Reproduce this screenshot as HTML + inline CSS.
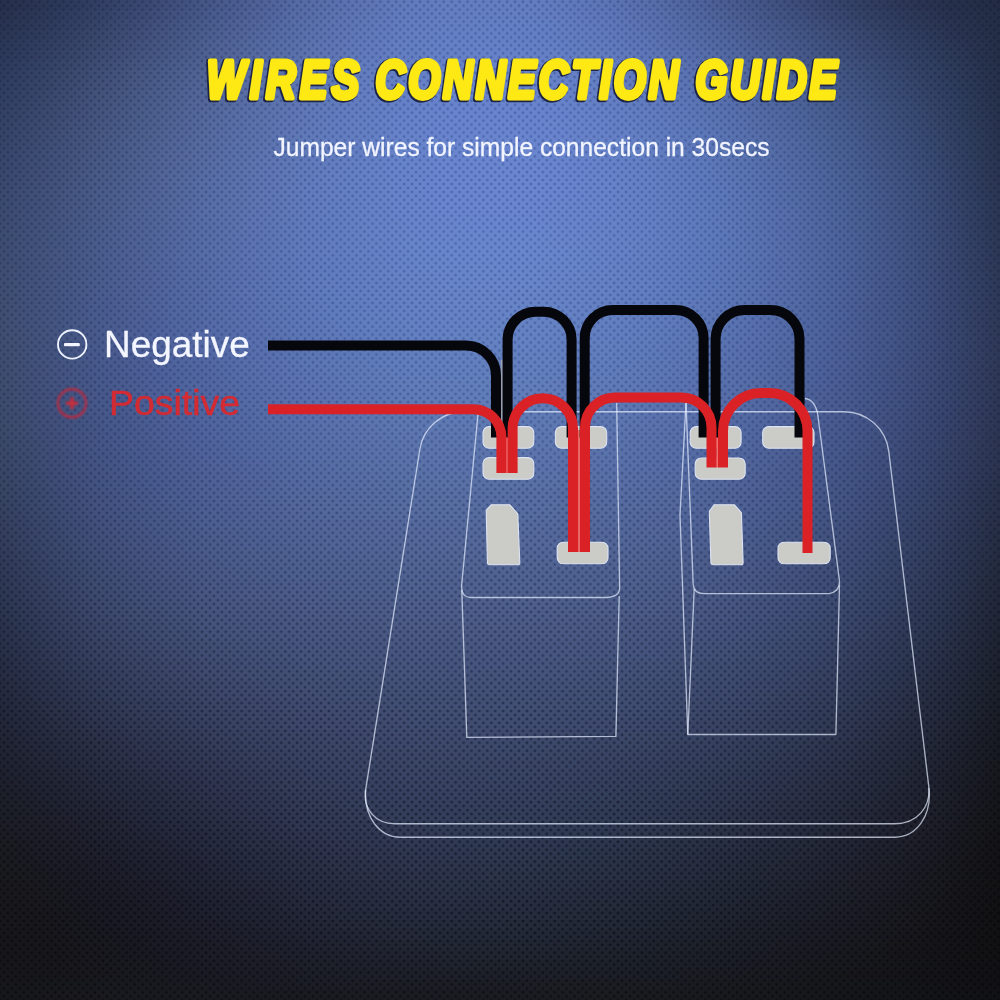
<!DOCTYPE html>
<html><head><meta charset="utf-8">
<style>
html,body{margin:0;padding:0;}
body{width:1000px;height:1000px;overflow:hidden;position:relative;
background:#202840;}
#bgs div{position:absolute;left:0;width:1000px;}
svg{position:absolute;left:0;top:0;}
</style></head>
<body>
<div id="bgs"><div style="top:0px;height:10px;background:linear-gradient(90deg,rgb(38,48,75) 0px,rgb(43,55,86) 50px,rgb(51,63,100) 100px,rgb(59,74,115) 150px,rgb(69,85,132) 200px,rgb(77,96,148) 250px,rgb(86,107,164) 300px,rgb(92,115,177) 350px,rgb(97,122,186) 400px,rgb(100,126,192) 450px,rgb(100,126,193) 500px,rgb(98,124,190) 550px,rgb(93,118,182) 600px,rgb(87,110,170) 650px,rgb(79,99,155) 700px,rgb(70,88,138) 750px,rgb(61,76,120) 800px,rgb(52,65,102) 850px,rgb(45,55,87) 900px,rgb(39,48,75) 950px,rgb(35,44,68) 1000px)"></div><div style="top:10px;height:10px;background:linear-gradient(90deg,rgb(39,50,78) 0px,rgb(45,57,89) 50px,rgb(53,66,103) 100px,rgb(62,76,118) 150px,rgb(70,87,135) 200px,rgb(79,98,151) 250px,rgb(87,108,166) 300px,rgb(93,117,178) 350px,rgb(98,123,188) 400px,rgb(101,126,194) 450px,rgb(101,127,195) 500px,rgb(99,125,192) 550px,rgb(95,119,185) 600px,rgb(88,112,173) 650px,rgb(81,102,158) 700px,rgb(72,91,141) 750px,rgb(63,79,124) 800px,rgb(54,68,106) 850px,rgb(46,58,91) 900px,rgb(40,50,78) 950px,rgb(35,45,69) 1000px)"></div><div style="top:20px;height:10px;background:linear-gradient(90deg,rgb(40,51,81) 0px,rgb(47,59,92) 50px,rgb(55,68,105) 100px,rgb(64,79,121) 150px,rgb(72,90,137) 200px,rgb(81,100,153) 250px,rgb(88,110,168) 300px,rgb(94,118,180) 350px,rgb(99,124,190) 400px,rgb(101,127,195) 450px,rgb(101,128,196) 500px,rgb(99,126,194) 550px,rgb(96,121,187) 600px,rgb(90,113,176) 650px,rgb(82,104,161) 700px,rgb(74,93,145) 750px,rgb(65,82,128) 800px,rgb(56,71,110) 850px,rgb(48,60,94) 900px,rgb(41,52,80) 950px,rgb(35,45,69) 1000px)"></div><div style="top:30px;height:10px;background:linear-gradient(90deg,rgb(41,53,83) 0px,rgb(49,61,94) 50px,rgb(57,71,108) 100px,rgb(66,81,123) 150px,rgb(74,92,139) 200px,rgb(82,102,155) 250px,rgb(89,111,170) 300px,rgb(95,119,182) 350px,rgb(99,125,191) 400px,rgb(102,128,197) 450px,rgb(102,128,198) 500px,rgb(100,126,195) 550px,rgb(97,122,188) 600px,rgb(91,115,178) 650px,rgb(84,106,164) 700px,rgb(76,96,148) 750px,rgb(67,85,131) 800px,rgb(58,74,114) 850px,rgb(49,63,98) 900px,rgb(42,53,83) 950px,rgb(36,46,70) 1000px)"></div><div style="top:40px;height:10px;background:linear-gradient(90deg,rgb(43,55,86) 0px,rgb(50,63,97) 50px,rgb(59,73,110) 100px,rgb(67,83,126) 150px,rgb(76,94,141) 200px,rgb(83,104,157) 250px,rgb(90,113,171) 300px,rgb(96,120,184) 350px,rgb(100,126,193) 400px,rgb(102,129,198) 450px,rgb(103,129,199) 500px,rgb(101,127,197) 550px,rgb(97,123,190) 600px,rgb(92,116,180) 650px,rgb(85,108,167) 700px,rgb(77,98,152) 750px,rgb(68,87,135) 800px,rgb(60,76,118) 850px,rgb(51,65,101) 900px,rgb(43,55,85) 950px,rgb(36,46,71) 1000px)"></div><div style="top:50px;height:10px;background:linear-gradient(90deg,rgb(44,56,88) 0px,rgb(52,65,99) 50px,rgb(60,75,113) 100px,rgb(69,85,128) 150px,rgb(77,95,143) 200px,rgb(85,105,159) 250px,rgb(91,114,173) 300px,rgb(97,121,185) 350px,rgb(100,126,194) 400px,rgb(103,129,199) 450px,rgb(103,130,201) 500px,rgb(102,128,198) 550px,rgb(98,124,192) 600px,rgb(93,118,182) 650px,rgb(86,110,170) 700px,rgb(79,100,155) 750px,rgb(70,89,138) 800px,rgb(61,78,121) 850px,rgb(52,67,104) 900px,rgb(44,57,87) 950px,rgb(36,47,71) 1000px)"></div><div style="top:60px;height:10px;background:linear-gradient(90deg,rgb(45,58,91) 0px,rgb(53,67,102) 50px,rgb(62,77,115) 100px,rgb(70,87,130) 150px,rgb(78,97,145) 200px,rgb(86,106,161) 250px,rgb(92,115,175) 300px,rgb(97,122,186) 350px,rgb(101,127,195) 400px,rgb(103,130,200) 450px,rgb(104,131,202) 500px,rgb(102,129,199) 550px,rgb(99,125,193) 600px,rgb(94,119,184) 650px,rgb(88,111,172) 700px,rgb(80,102,157) 750px,rgb(71,92,141) 800px,rgb(63,81,124) 850px,rgb(53,69,107) 900px,rgb(45,58,89) 950px,rgb(36,47,72) 1000px)"></div><div style="top:70px;height:10px;background:linear-gradient(90deg,rgb(46,59,93) 0px,rgb(55,69,104) 50px,rgb(63,79,117) 100px,rgb(72,89,132) 150px,rgb(80,99,147) 200px,rgb(87,108,162) 250px,rgb(93,116,176) 300px,rgb(98,123,188) 350px,rgb(101,128,196) 400px,rgb(103,131,201) 450px,rgb(104,131,203) 500px,rgb(103,130,200) 550px,rgb(100,126,195) 600px,rgb(95,120,186) 650px,rgb(89,113,174) 700px,rgb(81,104,160) 750px,rgb(73,94,144) 800px,rgb(64,83,127) 850px,rgb(55,71,109) 900px,rgb(46,59,91) 950px,rgb(37,48,73) 1000px)"></div><div style="top:80px;height:10px;background:linear-gradient(90deg,rgb(47,61,95) 0px,rgb(56,70,106) 50px,rgb(65,80,119) 100px,rgb(73,90,134) 150px,rgb(81,100,149) 200px,rgb(88,109,164) 250px,rgb(93,117,177) 300px,rgb(98,124,189) 350px,rgb(102,128,197) 400px,rgb(104,131,202) 450px,rgb(104,132,204) 500px,rgb(103,130,201) 550px,rgb(100,127,196) 600px,rgb(96,121,187) 650px,rgb(90,114,176) 700px,rgb(82,105,162) 750px,rgb(74,96,147) 800px,rgb(65,85,130) 850px,rgb(56,73,112) 900px,rgb(46,61,93) 950px,rgb(37,48,74) 1000px)"></div><div style="top:90px;height:10px;background:linear-gradient(90deg,rgb(48,62,97) 0px,rgb(57,72,108) 50px,rgb(66,82,121) 100px,rgb(74,92,136) 150px,rgb(82,101,151) 200px,rgb(88,110,165) 250px,rgb(94,118,179) 300px,rgb(99,124,190) 350px,rgb(102,129,198) 400px,rgb(104,132,203) 450px,rgb(105,132,204) 500px,rgb(104,131,202) 550px,rgb(101,128,197) 600px,rgb(96,122,189) 650px,rgb(91,116,178) 700px,rgb(83,107,165) 750px,rgb(75,97,149) 800px,rgb(66,86,132) 850px,rgb(57,74,114) 900px,rgb(47,62,95) 950px,rgb(38,49,74) 1000px)"></div><div style="top:100px;height:10px;background:linear-gradient(90deg,rgb(50,63,99) 0px,rgb(59,73,110) 50px,rgb(67,83,123) 100px,rgb(75,93,138) 150px,rgb(83,102,152) 200px,rgb(89,111,167) 250px,rgb(95,119,180) 300px,rgb(99,125,191) 350px,rgb(102,129,199) 400px,rgb(104,132,204) 450px,rgb(105,133,205) 500px,rgb(104,132,203) 550px,rgb(101,128,198) 600px,rgb(97,123,190) 650px,rgb(91,117,180) 700px,rgb(84,108,167) 750px,rgb(76,99,152) 800px,rgb(67,88,135) 850px,rgb(58,76,116) 900px,rgb(48,63,96) 950px,rgb(38,49,75) 1000px)"></div><div style="top:110px;height:10px;background:linear-gradient(90deg,rgb(51,65,100) 0px,rgb(60,74,112) 50px,rgb(68,84,125) 100px,rgb(76,94,139) 150px,rgb(83,103,154) 200px,rgb(90,112,168) 250px,rgb(95,119,181) 300px,rgb(99,125,192) 350px,rgb(103,130,200) 400px,rgb(105,133,204) 450px,rgb(105,133,206) 500px,rgb(104,132,204) 550px,rgb(102,129,199) 600px,rgb(98,124,191) 650px,rgb(92,118,181) 700px,rgb(85,110,169) 750px,rgb(77,100,154) 800px,rgb(68,89,137) 850px,rgb(59,77,118) 900px,rgb(49,64,98) 950px,rgb(38,50,76) 1000px)"></div><div style="top:120px;height:10px;background:linear-gradient(90deg,rgb(52,66,102) 0px,rgb(61,76,113) 50px,rgb(69,85,127) 100px,rgb(77,95,141) 150px,rgb(84,104,155) 200px,rgb(90,113,169) 250px,rgb(96,120,182) 300px,rgb(100,126,193) 350px,rgb(103,130,200) 400px,rgb(105,133,205) 450px,rgb(105,134,206) 500px,rgb(105,133,204) 550px,rgb(102,130,200) 600px,rgb(98,125,192) 650px,rgb(93,119,183) 700px,rgb(86,111,170) 750px,rgb(78,101,156) 800px,rgb(69,91,139) 850px,rgb(60,78,120) 900px,rgb(50,65,99) 950px,rgb(39,50,77) 1000px)"></div><div style="top:130px;height:10px;background:linear-gradient(90deg,rgb(53,67,103) 0px,rgb(62,77,115) 50px,rgb(70,87,128) 100px,rgb(78,96,142) 150px,rgb(85,105,157) 200px,rgb(91,113,170) 250px,rgb(96,121,183) 300px,rgb(100,126,193) 350px,rgb(103,131,201) 400px,rgb(105,133,205) 450px,rgb(106,134,207) 500px,rgb(105,133,205) 550px,rgb(103,130,200) 600px,rgb(99,126,193) 650px,rgb(93,120,184) 700px,rgb(87,112,172) 750px,rgb(79,103,157) 800px,rgb(70,92,141) 850px,rgb(61,79,122) 900px,rgb(50,66,101) 950px,rgb(39,51,78) 1000px)"></div><div style="top:140px;height:10px;background:linear-gradient(90deg,rgb(54,68,105) 0px,rgb(62,78,116) 50px,rgb(71,87,130) 100px,rgb(78,97,144) 150px,rgb(85,106,158) 200px,rgb(91,114,171) 250px,rgb(96,121,184) 300px,rgb(100,127,194) 350px,rgb(103,131,201) 400px,rgb(105,134,206) 450px,rgb(106,134,207) 500px,rgb(105,133,205) 550px,rgb(103,131,201) 600px,rgb(99,126,194) 650px,rgb(94,120,185) 700px,rgb(87,113,173) 750px,rgb(80,104,159) 800px,rgb(71,93,143) 850px,rgb(61,80,124) 900px,rgb(51,67,102) 950px,rgb(40,51,78) 1000px)"></div><div style="top:150px;height:10px;background:linear-gradient(90deg,rgb(54,69,106) 0px,rgb(63,79,118) 50px,rgb(71,88,131) 100px,rgb(79,98,145) 150px,rgb(86,106,159) 200px,rgb(91,114,172) 250px,rgb(96,121,184) 300px,rgb(100,127,194) 350px,rgb(103,131,202) 400px,rgb(105,134,206) 450px,rgb(106,135,207) 500px,rgb(105,134,206) 550px,rgb(103,131,201) 600px,rgb(99,127,195) 650px,rgb(94,121,186) 700px,rgb(88,114,174) 750px,rgb(80,104,160) 800px,rgb(72,94,144) 850px,rgb(62,81,125) 900px,rgb(51,67,103) 950px,rgb(40,52,79) 1000px)"></div><div style="top:160px;height:10px;background:linear-gradient(90deg,rgb(55,70,107) 0px,rgb(64,80,119) 50px,rgb(72,89,132) 100px,rgb(79,98,146) 150px,rgb(86,107,160) 200px,rgb(92,115,173) 250px,rgb(97,122,185) 300px,rgb(101,127,195) 350px,rgb(103,132,202) 400px,rgb(105,134,206) 450px,rgb(106,135,207) 500px,rgb(105,134,206) 550px,rgb(103,131,202) 600px,rgb(100,127,195) 650px,rgb(95,122,187) 700px,rgb(88,114,175) 750px,rgb(81,105,162) 800px,rgb(72,94,145) 850px,rgb(63,82,126) 900px,rgb(52,68,105) 950px,rgb(41,52,80) 1000px)"></div><div style="top:170px;height:10px;background:linear-gradient(90deg,rgb(56,71,108) 0px,rgb(65,80,120) 50px,rgb(72,90,133) 100px,rgb(80,99,147) 150px,rgb(86,107,161) 200px,rgb(92,115,174) 250px,rgb(97,122,185) 300px,rgb(101,128,195) 350px,rgb(103,132,202) 400px,rgb(105,134,206) 450px,rgb(106,135,207) 500px,rgb(105,134,206) 550px,rgb(103,132,202) 600px,rgb(100,128,196) 650px,rgb(95,122,187) 700px,rgb(89,115,176) 750px,rgb(81,106,163) 800px,rgb(73,95,147) 850px,rgb(63,83,128) 900px,rgb(53,68,106) 950px,rgb(41,52,81) 1000px)"></div><div style="top:180px;height:10px;background:linear-gradient(90deg,rgb(57,72,109) 0px,rgb(65,81,121) 50px,rgb(73,90,135) 100px,rgb(80,99,148) 150px,rgb(86,108,162) 200px,rgb(92,115,174) 250px,rgb(97,122,186) 300px,rgb(101,128,195) 350px,rgb(103,132,202) 400px,rgb(105,134,206) 450px,rgb(106,135,207) 500px,rgb(105,134,206) 550px,rgb(103,132,202) 600px,rgb(100,128,196) 650px,rgb(95,122,188) 700px,rgb(89,115,177) 750px,rgb(82,106,164) 800px,rgb(73,96,148) 850px,rgb(64,83,129) 900px,rgb(53,69,107) 950px,rgb(42,53,81) 1000px)"></div><div style="top:190px;height:10px;background:linear-gradient(90deg,rgb(58,73,110) 0px,rgb(66,82,122) 50px,rgb(73,91,136) 100px,rgb(80,99,149) 150px,rgb(86,108,162) 200px,rgb(92,116,175) 250px,rgb(97,122,186) 300px,rgb(101,128,195) 350px,rgb(103,132,202) 400px,rgb(105,134,206) 450px,rgb(106,135,207) 500px,rgb(105,134,206) 550px,rgb(103,132,202) 600px,rgb(100,128,196) 650px,rgb(95,123,188) 700px,rgb(89,115,178) 750px,rgb(82,107,164) 800px,rgb(74,96,149) 850px,rgb(64,84,130) 900px,rgb(54,69,108) 950px,rgb(42,53,82) 1000px)"></div><div style="top:200px;height:10px;background:linear-gradient(90deg,rgb(58,74,111) 0px,rgb(66,82,123) 50px,rgb(74,91,136) 100px,rgb(80,100,150) 150px,rgb(87,108,163) 200px,rgb(92,116,175) 250px,rgb(97,122,186) 300px,rgb(100,128,195) 350px,rgb(103,132,202) 400px,rgb(105,134,206) 450px,rgb(106,135,207) 500px,rgb(105,134,205) 550px,rgb(103,132,202) 600px,rgb(100,128,196) 650px,rgb(95,123,188) 700px,rgb(90,116,178) 750px,rgb(82,107,165) 800px,rgb(74,96,149) 850px,rgb(65,84,130) 900px,rgb(54,70,108) 950px,rgb(42,54,83) 1000px)"></div><div style="top:210px;height:10px;background:linear-gradient(90deg,rgb(59,74,111) 0px,rgb(67,83,124) 50px,rgb(74,91,137) 100px,rgb(80,100,151) 150px,rgb(87,108,164) 200px,rgb(92,116,176) 250px,rgb(97,122,186) 300px,rgb(100,128,195) 350px,rgb(103,132,202) 400px,rgb(105,134,205) 450px,rgb(106,135,206) 500px,rgb(105,134,205) 550px,rgb(103,132,202) 600px,rgb(100,128,196) 650px,rgb(96,123,188) 700px,rgb(90,116,178) 750px,rgb(83,107,166) 800px,rgb(74,97,150) 850px,rgb(65,84,131) 900px,rgb(54,70,109) 950px,rgb(43,54,83) 1000px)"></div><div style="top:220px;height:10px;background:linear-gradient(90deg,rgb(60,75,112) 0px,rgb(67,83,125) 50px,rgb(74,92,138) 100px,rgb(80,100,151) 150px,rgb(86,108,164) 200px,rgb(92,116,176) 250px,rgb(96,122,186) 300px,rgb(100,128,195) 350px,rgb(103,132,201) 400px,rgb(105,134,205) 450px,rgb(105,135,206) 500px,rgb(105,134,205) 550px,rgb(103,132,201) 600px,rgb(100,128,196) 650px,rgb(96,123,188) 700px,rgb(90,116,178) 750px,rgb(83,107,166) 800px,rgb(75,97,150) 850px,rgb(65,85,132) 900px,rgb(55,70,110) 950px,rgb(43,54,84) 1000px)"></div><div style="top:230px;height:10px;background:linear-gradient(90deg,rgb(60,76,112) 0px,rgb(67,84,125) 50px,rgb(74,92,139) 100px,rgb(80,100,152) 150px,rgb(86,108,164) 200px,rgb(92,115,176) 250px,rgb(96,122,186) 300px,rgb(100,128,195) 350px,rgb(103,132,201) 400px,rgb(105,134,204) 450px,rgb(105,135,205) 500px,rgb(105,134,204) 550px,rgb(103,132,201) 600px,rgb(100,128,196) 650px,rgb(95,123,188) 700px,rgb(90,116,179) 750px,rgb(83,107,166) 800px,rgb(75,97,151) 850px,rgb(66,85,132) 900px,rgb(55,71,110) 950px,rgb(44,55,85) 1000px)"></div><div style="top:240px;height:10px;background:linear-gradient(90deg,rgb(61,76,112) 0px,rgb(67,84,126) 50px,rgb(74,92,139) 100px,rgb(80,100,152) 150px,rgb(86,108,165) 200px,rgb(91,115,176) 250px,rgb(96,122,186) 300px,rgb(100,127,194) 350px,rgb(103,132,200) 400px,rgb(104,134,204) 450px,rgb(105,135,205) 500px,rgb(105,134,203) 550px,rgb(103,132,200) 600px,rgb(100,128,195) 650px,rgb(95,123,188) 700px,rgb(90,116,178) 750px,rgb(83,107,166) 800px,rgb(75,97,151) 850px,rgb(66,85,133) 900px,rgb(55,71,111) 950px,rgb(44,55,85) 1000px)"></div><div style="top:250px;height:10px;background:linear-gradient(90deg,rgb(61,77,113) 0px,rgb(68,84,126) 50px,rgb(74,92,140) 100px,rgb(80,100,153) 150px,rgb(86,108,165) 200px,rgb(91,115,176) 250px,rgb(96,122,186) 300px,rgb(100,127,194) 350px,rgb(102,131,200) 400px,rgb(104,134,203) 450px,rgb(105,135,204) 500px,rgb(104,134,203) 550px,rgb(102,131,200) 600px,rgb(99,128,195) 650px,rgb(95,122,188) 700px,rgb(90,116,178) 750px,rgb(83,107,166) 800px,rgb(75,97,151) 850px,rgb(66,85,133) 900px,rgb(56,71,111) 950px,rgb(44,55,86) 1000px)"></div><div style="top:260px;height:10px;background:linear-gradient(90deg,rgb(62,77,113) 0px,rgb(68,84,126) 50px,rgb(74,92,140) 100px,rgb(80,100,153) 150px,rgb(86,107,165) 200px,rgb(91,115,176) 250px,rgb(95,121,186) 300px,rgb(99,127,193) 350px,rgb(102,131,199) 400px,rgb(104,134,202) 450px,rgb(104,134,203) 500px,rgb(104,134,202) 550px,rgb(102,131,199) 600px,rgb(99,127,194) 650px,rgb(95,122,187) 700px,rgb(89,115,178) 750px,rgb(83,107,166) 800px,rgb(75,97,151) 850px,rgb(66,85,133) 900px,rgb(56,71,111) 950px,rgb(45,55,86) 1000px)"></div><div style="top:270px;height:10px;background:linear-gradient(90deg,rgb(62,77,113) 0px,rgb(68,84,127) 50px,rgb(74,92,140) 100px,rgb(80,99,153) 150px,rgb(85,107,165) 200px,rgb(91,114,176) 250px,rgb(95,121,185) 300px,rgb(99,127,193) 350px,rgb(102,131,198) 400px,rgb(104,133,201) 450px,rgb(104,134,202) 500px,rgb(104,133,201) 550px,rgb(102,131,198) 600px,rgb(99,127,193) 650px,rgb(95,122,187) 700px,rgb(89,115,177) 750px,rgb(83,107,166) 800px,rgb(75,96,151) 850px,rgb(66,85,133) 900px,rgb(56,71,112) 950px,rgb(45,56,86) 1000px)"></div><div style="top:280px;height:10px;background:linear-gradient(90deg,rgb(62,78,113) 0px,rgb(68,84,127) 50px,rgb(74,92,140) 100px,rgb(80,99,153) 150px,rgb(85,107,165) 200px,rgb(90,114,176) 250px,rgb(95,121,185) 300px,rgb(99,126,192) 350px,rgb(101,130,197) 400px,rgb(103,133,200) 450px,rgb(104,134,201) 500px,rgb(103,133,200) 550px,rgb(101,130,197) 600px,rgb(99,127,193) 650px,rgb(94,121,186) 700px,rgb(89,115,177) 750px,rgb(83,106,165) 800px,rgb(75,96,151) 850px,rgb(66,84,133) 900px,rgb(56,71,112) 950px,rgb(45,56,87) 1000px)"></div><div style="top:290px;height:10px;background:linear-gradient(90deg,rgb(62,78,113) 0px,rgb(68,84,127) 50px,rgb(74,91,141) 100px,rgb(79,99,153) 150px,rgb(85,106,165) 200px,rgb(90,114,175) 250px,rgb(94,120,184) 300px,rgb(98,126,191) 350px,rgb(101,130,196) 400px,rgb(103,132,199) 450px,rgb(103,133,200) 500px,rgb(103,132,199) 550px,rgb(101,130,196) 600px,rgb(98,126,192) 650px,rgb(94,121,185) 700px,rgb(89,114,176) 750px,rgb(82,106,165) 800px,rgb(75,96,150) 850px,rgb(66,84,133) 900px,rgb(56,71,112) 950px,rgb(45,56,87) 1000px)"></div><div style="top:300px;height:10px;background:linear-gradient(90deg,rgb(63,78,113) 0px,rgb(68,84,127) 50px,rgb(73,91,141) 100px,rgb(79,99,153) 150px,rgb(84,106,165) 200px,rgb(89,113,175) 250px,rgb(94,120,183) 300px,rgb(98,125,190) 350px,rgb(101,129,195) 400px,rgb(102,132,198) 450px,rgb(103,133,199) 500px,rgb(102,132,198) 550px,rgb(101,129,195) 600px,rgb(98,126,191) 650px,rgb(94,120,184) 700px,rgb(88,114,176) 750px,rgb(82,105,164) 800px,rgb(75,95,150) 850px,rgb(66,84,133) 900px,rgb(56,71,112) 950px,rgb(46,56,87) 1000px)"></div><div style="top:310px;height:10px;background:linear-gradient(90deg,rgb(63,78,112) 0px,rgb(68,84,127) 50px,rgb(73,91,141) 100px,rgb(79,98,153) 150px,rgb(84,106,164) 200px,rgb(89,113,174) 250px,rgb(93,119,183) 300px,rgb(97,125,189) 350px,rgb(100,129,194) 400px,rgb(102,131,197) 450px,rgb(102,132,198) 500px,rgb(102,131,197) 550px,rgb(100,129,194) 600px,rgb(97,125,190) 650px,rgb(93,120,183) 700px,rgb(88,113,175) 750px,rgb(82,105,164) 800px,rgb(74,95,150) 850px,rgb(66,84,132) 900px,rgb(56,71,112) 950px,rgb(46,56,87) 1000px)"></div><div style="top:320px;height:10px;background:linear-gradient(90deg,rgb(63,78,112) 0px,rgb(68,84,127) 50px,rgb(73,91,140) 100px,rgb(78,98,153) 150px,rgb(84,105,164) 200px,rgb(89,112,174) 250px,rgb(93,119,182) 300px,rgb(97,124,188) 350px,rgb(100,128,193) 400px,rgb(101,131,196) 450px,rgb(102,131,196) 500px,rgb(101,131,195) 550px,rgb(100,128,193) 600px,rgb(97,124,189) 650px,rgb(93,119,182) 700px,rgb(88,112,174) 750px,rgb(81,104,163) 800px,rgb(74,94,149) 850px,rgb(66,83,132) 900px,rgb(56,70,111) 950px,rgb(46,56,87) 1000px)"></div><div style="top:330px;height:10px;background:linear-gradient(90deg,rgb(63,78,112) 0px,rgb(68,84,126) 50px,rgb(73,90,140) 100px,rgb(78,97,153) 150px,rgb(83,104,164) 200px,rgb(88,111,173) 250px,rgb(93,118,181) 300px,rgb(96,123,187) 350px,rgb(99,127,192) 400px,rgb(101,130,194) 450px,rgb(101,131,195) 500px,rgb(101,130,194) 550px,rgb(99,127,192) 600px,rgb(96,124,187) 650px,rgb(92,118,181) 700px,rgb(87,112,173) 750px,rgb(81,103,162) 800px,rgb(74,94,148) 850px,rgb(66,83,131) 900px,rgb(56,70,111) 950px,rgb(46,56,87) 1000px)"></div><div style="top:340px;height:10px;background:linear-gradient(90deg,rgb(63,78,111) 0px,rgb(67,83,126) 50px,rgb(72,90,140) 100px,rgb(78,97,152) 150px,rgb(83,104,163) 200px,rgb(88,111,172) 250px,rgb(92,117,180) 300px,rgb(96,123,186) 350px,rgb(99,127,190) 400px,rgb(100,129,193) 450px,rgb(101,130,194) 500px,rgb(100,129,193) 550px,rgb(99,127,190) 600px,rgb(96,123,186) 650px,rgb(92,118,180) 700px,rgb(87,111,172) 750px,rgb(81,103,161) 800px,rgb(74,93,147) 850px,rgb(65,82,131) 900px,rgb(56,70,111) 950px,rgb(46,56,87) 1000px)"></div><div style="top:350px;height:10px;background:linear-gradient(90deg,rgb(63,78,110) 0px,rgb(67,83,126) 50px,rgb(72,89,140) 100px,rgb(77,96,152) 150px,rgb(82,103,162) 200px,rgb(87,110,171) 250px,rgb(91,117,179) 300px,rgb(95,122,185) 350px,rgb(98,126,189) 400px,rgb(100,128,191) 450px,rgb(100,129,192) 500px,rgb(100,128,191) 550px,rgb(98,126,189) 600px,rgb(95,122,185) 650px,rgb(91,117,179) 700px,rgb(86,110,171) 750px,rgb(80,102,160) 800px,rgb(73,93,147) 850px,rgb(65,82,130) 900px,rgb(56,69,110) 950px,rgb(46,56,87) 1000px)"></div><div style="top:360px;height:10px;background:linear-gradient(90deg,rgb(62,77,110) 0px,rgb(67,83,125) 50px,rgb(72,89,139) 100px,rgb(77,96,151) 150px,rgb(82,103,162) 200px,rgb(87,110,170) 250px,rgb(91,116,178) 300px,rgb(95,121,183) 350px,rgb(97,125,187) 400px,rgb(99,127,190) 450px,rgb(100,128,190) 500px,rgb(99,127,190) 550px,rgb(97,125,187) 600px,rgb(95,121,183) 650px,rgb(91,116,177) 700px,rgb(86,109,169) 750px,rgb(80,101,159) 800px,rgb(73,92,146) 850px,rgb(65,81,129) 900px,rgb(56,69,110) 950px,rgb(46,56,86) 1000px)"></div><div style="top:370px;height:10px;background:linear-gradient(90deg,rgb(62,77,109) 0px,rgb(67,82,125) 50px,rgb(71,88,139) 100px,rgb(76,95,151) 150px,rgb(81,102,161) 200px,rgb(86,109,169) 250px,rgb(90,115,176) 300px,rgb(94,120,182) 350px,rgb(97,124,186) 400px,rgb(98,126,188) 450px,rgb(99,127,189) 500px,rgb(98,126,188) 550px,rgb(97,124,186) 600px,rgb(94,120,182) 650px,rgb(90,115,176) 700px,rgb(85,109,168) 750px,rgb(79,101,158) 800px,rgb(72,91,145) 850px,rgb(65,81,128) 900px,rgb(56,69,109) 950px,rgb(46,55,86) 1000px)"></div><div style="top:380px;height:10px;background:linear-gradient(90deg,rgb(62,76,108) 0px,rgb(66,82,124) 50px,rgb(71,88,138) 100px,rgb(76,95,150) 150px,rgb(81,102,160) 200px,rgb(86,108,168) 250px,rgb(90,114,175) 300px,rgb(93,119,180) 350px,rgb(96,123,184) 400px,rgb(98,125,186) 450px,rgb(98,126,187) 500px,rgb(98,125,186) 550px,rgb(96,123,184) 600px,rgb(93,119,180) 650px,rgb(89,114,174) 700px,rgb(85,108,167) 750px,rgb(79,100,156) 800px,rgb(72,90,144) 850px,rgb(64,80,128) 900px,rgb(55,68,108) 950px,rgb(46,55,85) 1000px)"></div><div style="top:390px;height:10px;background:linear-gradient(90deg,rgb(61,76,108) 0px,rgb(66,81,123) 50px,rgb(71,87,137) 100px,rgb(76,94,149) 150px,rgb(80,101,159) 200px,rgb(85,107,167) 250px,rgb(89,113,174) 300px,rgb(93,118,179) 350px,rgb(95,122,182) 400px,rgb(97,124,184) 450px,rgb(97,125,185) 500px,rgb(97,124,184) 550px,rgb(95,122,182) 600px,rgb(93,118,178) 650px,rgb(89,113,173) 700px,rgb(84,107,165) 750px,rgb(78,99,155) 800px,rgb(72,90,142) 850px,rgb(64,79,127) 900px,rgb(55,68,107) 950px,rgb(45,55,85) 1000px)"></div><div style="top:400px;height:10px;background:linear-gradient(90deg,rgb(61,75,107) 0px,rgb(65,81,123) 50px,rgb(70,87,137) 100px,rgb(75,94,148) 150px,rgb(80,100,158) 200px,rgb(84,107,166) 250px,rgb(89,112,172) 300px,rgb(92,117,177) 350px,rgb(95,121,180) 400px,rgb(96,123,182) 450px,rgb(97,124,183) 500px,rgb(96,123,182) 550px,rgb(95,121,180) 600px,rgb(92,117,177) 650px,rgb(88,112,171) 700px,rgb(84,106,164) 750px,rgb(78,98,154) 800px,rgb(71,89,141) 850px,rgb(63,79,126) 900px,rgb(55,67,107) 950px,rgb(45,54,84) 1000px)"></div><div style="top:410px;height:10px;background:linear-gradient(90deg,rgb(60,74,106) 0px,rgb(65,80,122) 50px,rgb(70,87,136) 100px,rgb(75,93,147) 150px,rgb(80,100,157) 200px,rgb(84,106,165) 250px,rgb(88,111,171) 300px,rgb(91,116,175) 350px,rgb(94,120,178) 400px,rgb(95,122,180) 450px,rgb(96,123,181) 500px,rgb(95,122,180) 550px,rgb(94,120,178) 600px,rgb(91,116,175) 650px,rgb(88,111,170) 700px,rgb(83,105,162) 750px,rgb(77,97,152) 800px,rgb(71,88,140) 850px,rgb(63,78,124) 900px,rgb(54,66,106) 950px,rgb(45,54,83) 1000px)"></div><div style="top:420px;height:10px;background:linear-gradient(90deg,rgb(60,74,105) 0px,rgb(65,80,121) 50px,rgb(69,86,135) 100px,rgb(74,93,146) 150px,rgb(79,99,156) 200px,rgb(83,105,163) 250px,rgb(87,111,169) 300px,rgb(91,115,173) 350px,rgb(93,119,176) 400px,rgb(95,121,178) 450px,rgb(95,121,179) 500px,rgb(95,121,178) 550px,rgb(93,119,177) 600px,rgb(91,115,173) 650px,rgb(87,110,168) 700px,rgb(82,104,161) 750px,rgb(77,96,151) 800px,rgb(70,87,139) 850px,rgb(62,77,123) 900px,rgb(54,66,105) 950px,rgb(45,53,82) 1000px)"></div><div style="top:430px;height:10px;background:linear-gradient(90deg,rgb(59,73,104) 0px,rgb(64,79,120) 50px,rgb(69,85,134) 100px,rgb(74,92,145) 150px,rgb(79,98,155) 200px,rgb(83,104,162) 250px,rgb(87,110,167) 300px,rgb(90,114,172) 350px,rgb(92,117,174) 400px,rgb(94,119,176) 450px,rgb(94,120,177) 500px,rgb(94,119,176) 550px,rgb(92,117,175) 600px,rgb(90,114,171) 650px,rgb(86,109,166) 700px,rgb(82,103,159) 750px,rgb(76,95,149) 800px,rgb(70,87,137) 850px,rgb(62,77,122) 900px,rgb(54,65,103) 950px,rgb(44,53,81) 1000px)"></div><div style="top:440px;height:10px;background:linear-gradient(90deg,rgb(58,72,102) 0px,rgb(64,78,119) 50px,rgb(69,85,133) 100px,rgb(74,91,144) 150px,rgb(78,98,153) 200px,rgb(82,103,160) 250px,rgb(86,109,166) 300px,rgb(89,113,170) 350px,rgb(91,116,172) 400px,rgb(93,118,174) 450px,rgb(93,119,175) 500px,rgb(93,118,174) 550px,rgb(91,116,172) 600px,rgb(89,113,169) 650px,rgb(86,108,164) 700px,rgb(81,102,157) 750px,rgb(75,95,148) 800px,rgb(69,86,136) 850px,rgb(61,76,121) 900px,rgb(53,65,102) 950px,rgb(44,52,80) 1000px)"></div><div style="top:450px;height:10px;background:linear-gradient(90deg,rgb(58,71,101) 0px,rgb(63,78,118) 50px,rgb(68,84,132) 100px,rgb(73,91,143) 150px,rgb(78,97,152) 200px,rgb(82,103,159) 250px,rgb(86,108,164) 300px,rgb(88,112,168) 350px,rgb(91,115,170) 400px,rgb(92,117,172) 450px,rgb(93,117,173) 500px,rgb(92,117,172) 550px,rgb(91,115,171) 600px,rgb(88,112,167) 650px,rgb(85,107,163) 700px,rgb(80,101,156) 750px,rgb(75,94,146) 800px,rgb(68,85,134) 850px,rgb(61,75,119) 900px,rgb(53,64,101) 950px,rgb(43,52,79) 1000px)"></div><div style="top:460px;height:10px;background:linear-gradient(90deg,rgb(57,70,100) 0px,rgb(63,77,117) 50px,rgb(68,84,131) 100px,rgb(73,90,142) 150px,rgb(78,97,151) 200px,rgb(82,102,157) 250px,rgb(85,107,162) 300px,rgb(88,111,166) 350px,rgb(90,114,168) 400px,rgb(91,115,170) 450px,rgb(92,116,171) 500px,rgb(91,115,170) 550px,rgb(90,114,169) 600px,rgb(88,110,166) 650px,rgb(84,106,161) 700px,rgb(80,100,154) 750px,rgb(74,93,145) 800px,rgb(68,84,133) 850px,rgb(60,75,118) 900px,rgb(52,63,100) 950px,rgb(43,51,78) 1000px)"></div><div style="top:470px;height:10px;background:linear-gradient(90deg,rgb(56,69,99) 0px,rgb(62,76,116) 50px,rgb(68,83,130) 100px,rgb(73,90,141) 150px,rgb(77,96,149) 200px,rgb(81,101,156) 250px,rgb(84,106,161) 300px,rgb(87,109,164) 350px,rgb(89,112,166) 400px,rgb(90,114,168) 450px,rgb(91,115,169) 500px,rgb(91,114,168) 550px,rgb(89,112,167) 600px,rgb(87,109,164) 650px,rgb(84,105,159) 700px,rgb(79,99,152) 750px,rgb(74,92,143) 800px,rgb(67,84,132) 850px,rgb(60,74,117) 900px,rgb(52,63,99) 950px,rgb(42,50,77) 1000px)"></div><div style="top:480px;height:10px;background:linear-gradient(90deg,rgb(55,68,98) 0px,rgb(62,76,115) 50px,rgb(67,83,129) 100px,rgb(72,89,140) 150px,rgb(77,95,148) 200px,rgb(81,100,154) 250px,rgb(84,105,159) 300px,rgb(86,108,162) 350px,rgb(88,111,164) 400px,rgb(90,113,166) 450px,rgb(90,113,166) 500px,rgb(90,113,166) 550px,rgb(89,111,165) 600px,rgb(86,108,162) 650px,rgb(83,104,157) 700px,rgb(79,98,151) 750px,rgb(73,91,142) 800px,rgb(67,83,130) 850px,rgb(59,73,116) 900px,rgb(51,62,97) 950px,rgb(41,50,75) 1000px)"></div><div style="top:490px;height:10px;background:linear-gradient(90deg,rgb(54,67,97) 0px,rgb(61,75,114) 50px,rgb(67,82,127) 100px,rgb(72,89,138) 150px,rgb(77,95,147) 200px,rgb(80,100,153) 250px,rgb(83,104,157) 300px,rgb(86,107,160) 350px,rgb(87,110,162) 400px,rgb(89,111,164) 450px,rgb(89,112,164) 500px,rgb(89,111,164) 550px,rgb(88,110,163) 600px,rgb(86,107,160) 650px,rgb(82,103,155) 700px,rgb(78,97,149) 750px,rgb(73,90,140) 800px,rgb(66,82,129) 850px,rgb(59,73,114) 900px,rgb(50,61,96) 950px,rgb(41,49,74) 1000px)"></div><div style="top:500px;height:10px;background:linear-gradient(90deg,rgb(53,66,95) 0px,rgb(60,74,112) 50px,rgb(67,82,126) 100px,rgb(72,88,137) 150px,rgb(76,94,145) 200px,rgb(80,99,151) 250px,rgb(83,103,155) 300px,rgb(85,106,158) 350px,rgb(87,108,160) 400px,rgb(88,110,161) 450px,rgb(88,110,162) 500px,rgb(88,110,162) 550px,rgb(87,108,160) 600px,rgb(85,106,158) 650px,rgb(82,102,154) 700px,rgb(77,96,147) 750px,rgb(72,90,139) 800px,rgb(66,81,127) 850px,rgb(58,72,113) 900px,rgb(50,61,94) 950px,rgb(40,48,72) 1000px)"></div><div style="top:510px;height:10px;background:linear-gradient(90deg,rgb(53,64,94) 0px,rgb(60,73,111) 50px,rgb(66,81,125) 100px,rgb(71,88,135) 150px,rgb(76,93,143) 200px,rgb(79,98,149) 250px,rgb(82,102,153) 300px,rgb(84,105,156) 350px,rgb(86,107,158) 400px,rgb(87,108,159) 450px,rgb(87,109,160) 500px,rgb(87,108,160) 550px,rgb(86,107,158) 600px,rgb(84,104,156) 650px,rgb(81,100,152) 700px,rgb(77,95,145) 750px,rgb(71,89,137) 800px,rgb(65,81,126) 850px,rgb(58,71,111) 900px,rgb(49,60,93) 950px,rgb(40,47,71) 1000px)"></div><div style="top:520px;height:10px;background:linear-gradient(90deg,rgb(52,63,93) 0px,rgb(59,72,110) 50px,rgb(66,80,123) 100px,rgb(71,87,134) 150px,rgb(75,93,142) 200px,rgb(79,97,147) 250px,rgb(81,101,151) 300px,rgb(83,103,154) 350px,rgb(85,105,156) 400px,rgb(86,107,157) 450px,rgb(86,107,158) 500px,rgb(86,107,157) 550px,rgb(85,106,156) 600px,rgb(83,103,154) 650px,rgb(80,99,150) 700px,rgb(76,94,144) 750px,rgb(71,88,135) 800px,rgb(64,80,124) 850px,rgb(57,70,109) 900px,rgb(49,59,91) 950px,rgb(39,46,69) 1000px)"></div><div style="top:530px;height:10px;background:linear-gradient(90deg,rgb(51,62,91) 0px,rgb(59,71,108) 50px,rgb(65,80,122) 100px,rgb(70,86,132) 150px,rgb(75,92,140) 200px,rgb(78,96,145) 250px,rgb(81,99,149) 300px,rgb(83,102,152) 350px,rgb(84,104,154) 400px,rgb(85,105,155) 450px,rgb(85,106,155) 500px,rgb(85,105,155) 550px,rgb(84,104,154) 600px,rgb(82,102,152) 650px,rgb(79,98,148) 700px,rgb(75,93,142) 750px,rgb(70,87,133) 800px,rgb(64,79,122) 850px,rgb(56,69,108) 900px,rgb(48,58,90) 950px,rgb(38,46,68) 1000px)"></div><div style="top:540px;height:10px;background:linear-gradient(90deg,rgb(50,61,90) 0px,rgb(58,71,107) 50px,rgb(65,79,120) 100px,rgb(70,85,130) 150px,rgb(74,91,138) 200px,rgb(77,95,144) 250px,rgb(80,98,147) 300px,rgb(82,101,150) 350px,rgb(83,102,151) 400px,rgb(84,104,153) 450px,rgb(85,104,153) 500px,rgb(84,104,153) 550px,rgb(83,103,152) 600px,rgb(81,100,149) 650px,rgb(78,97,146) 700px,rgb(74,92,140) 750px,rgb(69,86,131) 800px,rgb(63,78,120) 850px,rgb(56,69,106) 900px,rgb(47,58,88) 950px,rgb(37,45,66) 1000px)"></div><div style="top:550px;height:10px;background:linear-gradient(90deg,rgb(49,59,88) 0px,rgb(57,69,105) 50px,rgb(64,78,118) 100px,rgb(69,84,128) 150px,rgb(74,90,136) 200px,rgb(77,94,141) 250px,rgb(79,97,145) 300px,rgb(81,99,148) 350px,rgb(82,101,149) 400px,rgb(83,102,150) 450px,rgb(83,103,151) 500px,rgb(83,102,151) 550px,rgb(82,101,149) 600px,rgb(80,99,147) 650px,rgb(78,95,143) 700px,rgb(74,91,138) 750px,rgb(69,85,129) 800px,rgb(62,77,119) 850px,rgb(55,68,104) 900px,rgb(47,57,86) 950px,rgb(37,44,65) 1000px)"></div><div style="top:560px;height:10px;background:linear-gradient(90deg,rgb(48,58,86) 0px,rgb(56,68,103) 50px,rgb(63,77,116) 100px,rgb(69,84,127) 150px,rgb(73,89,134) 200px,rgb(76,93,139) 250px,rgb(78,96,143) 300px,rgb(80,98,145) 350px,rgb(81,100,147) 400px,rgb(82,101,148) 450px,rgb(82,101,148) 500px,rgb(82,101,148) 550px,rgb(81,100,147) 600px,rgb(80,97,145) 650px,rgb(77,94,141) 700px,rgb(73,89,136) 750px,rgb(68,83,127) 800px,rgb(62,76,117) 850px,rgb(54,67,103) 900px,rgb(46,56,85) 950px,rgb(36,43,63) 1000px)"></div><div style="top:570px;height:10px;background:linear-gradient(90deg,rgb(47,57,85) 0px,rgb(55,67,101) 50px,rgb(62,76,114) 100px,rgb(68,82,124) 150px,rgb(72,88,132) 200px,rgb(75,92,137) 250px,rgb(77,95,141) 300px,rgb(79,97,143) 350px,rgb(80,98,145) 400px,rgb(81,99,146) 450px,rgb(81,99,146) 500px,rgb(81,99,146) 550px,rgb(80,98,145) 600px,rgb(79,96,143) 650px,rgb(76,93,139) 700px,rgb(72,88,133) 750px,rgb(67,82,125) 800px,rgb(61,75,115) 850px,rgb(54,66,101) 900px,rgb(45,55,83) 950px,rgb(35,42,61) 1000px)"></div><div style="top:580px;height:10px;background:linear-gradient(90deg,rgb(46,56,83) 0px,rgb(55,66,99) 50px,rgb(62,75,112) 100px,rgb(67,81,122) 150px,rgb(71,87,130) 200px,rgb(74,90,135) 250px,rgb(77,93,139) 300px,rgb(78,95,141) 350px,rgb(79,97,142) 400px,rgb(80,97,143) 450px,rgb(80,98,144) 500px,rgb(80,98,144) 550px,rgb(79,97,143) 600px,rgb(78,95,140) 650px,rgb(75,91,137) 700px,rgb(71,87,131) 750px,rgb(66,81,123) 800px,rgb(60,74,113) 850px,rgb(53,65,99) 900px,rgb(44,54,81) 950px,rgb(35,41,59) 1000px)"></div><div style="top:590px;height:10px;background:linear-gradient(90deg,rgb(45,54,81) 0px,rgb(54,65,97) 50px,rgb(61,73,110) 100px,rgb(66,80,120) 150px,rgb(71,85,128) 200px,rgb(74,89,133) 250px,rgb(76,92,136) 300px,rgb(77,94,139) 350px,rgb(78,95,140) 400px,rgb(79,96,141) 450px,rgb(79,96,142) 500px,rgb(79,96,141) 550px,rgb(78,95,140) 600px,rgb(76,93,138) 650px,rgb(74,90,134) 700px,rgb(70,86,129) 750px,rgb(65,80,121) 800px,rgb(59,73,111) 850px,rgb(52,64,97) 900px,rgb(44,53,79) 950px,rgb(34,40,58) 1000px)"></div><div style="top:600px;height:10px;background:linear-gradient(90deg,rgb(44,53,79) 0px,rgb(53,64,95) 50px,rgb(60,72,108) 100px,rgb(65,79,118) 150px,rgb(70,84,125) 200px,rgb(73,88,130) 250px,rgb(75,90,134) 300px,rgb(76,92,136) 350px,rgb(77,94,138) 400px,rgb(78,94,139) 450px,rgb(78,95,139) 500px,rgb(78,95,139) 550px,rgb(77,94,138) 600px,rgb(75,92,136) 650px,rgb(73,89,132) 700px,rgb(69,84,127) 750px,rgb(64,79,119) 800px,rgb(58,71,108) 850px,rgb(51,63,95) 900px,rgb(43,52,77) 950px,rgb(33,39,56) 1000px)"></div><div style="top:610px;height:10px;background:linear-gradient(90deg,rgb(43,52,77) 0px,rgb(52,62,93) 50px,rgb(59,71,106) 100px,rgb(65,77,115) 150px,rgb(69,83,123) 200px,rgb(72,86,128) 250px,rgb(74,89,132) 300px,rgb(75,91,134) 350px,rgb(76,92,136) 400px,rgb(77,93,137) 450px,rgb(77,93,137) 500px,rgb(77,93,137) 550px,rgb(76,92,135) 600px,rgb(74,90,133) 650px,rgb(72,87,130) 700px,rgb(68,83,124) 750px,rgb(63,77,117) 800px,rgb(57,70,106) 850px,rgb(50,61,93) 900px,rgb(42,51,76) 950px,rgb(32,38,54) 1000px)"></div><div style="top:620px;height:10px;background:linear-gradient(90deg,rgb(42,50,75) 0px,rgb(51,61,91) 50px,rgb(58,69,103) 100px,rgb(63,76,113) 150px,rgb(68,81,120) 200px,rgb(71,85,126) 250px,rgb(73,87,129) 300px,rgb(74,89,132) 350px,rgb(75,91,133) 400px,rgb(76,91,134) 450px,rgb(76,92,135) 500px,rgb(76,91,134) 550px,rgb(75,90,133) 600px,rgb(73,88,131) 650px,rgb(70,86,127) 700px,rgb(67,81,122) 750px,rgb(62,76,114) 800px,rgb(57,69,104) 850px,rgb(50,60,91) 900px,rgb(41,50,74) 950px,rgb(32,37,53) 1000px)"></div><div style="top:630px;height:10px;background:linear-gradient(90deg,rgb(41,49,73) 0px,rgb(50,59,88) 50px,rgb(57,68,101) 100px,rgb(62,74,110) 150px,rgb(66,79,118) 200px,rgb(70,83,123) 250px,rgb(72,86,127) 300px,rgb(73,88,130) 350px,rgb(74,89,131) 400px,rgb(75,90,132) 450px,rgb(75,90,132) 500px,rgb(75,90,132) 550px,rgb(74,89,131) 600px,rgb(72,87,128) 650px,rgb(69,84,125) 700px,rgb(66,80,120) 750px,rgb(61,75,112) 800px,rgb(56,68,102) 850px,rgb(49,59,88) 900px,rgb(41,49,72) 950px,rgb(31,36,51) 1000px)"></div><div style="top:640px;height:10px;background:linear-gradient(90deg,rgb(40,48,71) 0px,rgb(49,58,86) 50px,rgb(56,66,98) 100px,rgb(61,73,108) 150px,rgb(65,78,115) 200px,rgb(68,82,121) 250px,rgb(71,84,125) 300px,rgb(72,86,127) 350px,rgb(73,88,129) 400px,rgb(73,88,130) 450px,rgb(74,89,130) 500px,rgb(73,88,130) 550px,rgb(72,87,128) 600px,rgb(71,85,126) 650px,rgb(68,82,122) 700px,rgb(65,78,117) 750px,rgb(60,73,110) 800px,rgb(55,66,99) 850px,rgb(48,58,86) 900px,rgb(40,48,70) 950px,rgb(30,35,49) 1000px)"></div><div style="top:650px;height:10px;background:linear-gradient(90deg,rgb(39,47,69) 0px,rgb(48,56,84) 50px,rgb(55,65,96) 100px,rgb(60,71,105) 150px,rgb(64,76,113) 200px,rgb(67,80,118) 250px,rgb(69,83,122) 300px,rgb(71,85,125) 350px,rgb(72,86,127) 400px,rgb(72,87,128) 450px,rgb(72,87,128) 500px,rgb(72,87,127) 550px,rgb(71,86,126) 600px,rgb(69,84,124) 650px,rgb(67,81,120) 700px,rgb(64,77,115) 750px,rgb(59,72,107) 800px,rgb(54,65,97) 850px,rgb(47,57,84) 900px,rgb(39,46,68) 950px,rgb(30,34,47) 1000px)"></div><div style="top:660px;height:10px;background:linear-gradient(90deg,rgb(38,45,67) 0px,rgb(47,55,81) 50px,rgb(53,63,93) 100px,rgb(59,69,102) 150px,rgb(63,74,110) 200px,rgb(66,78,116) 250px,rgb(68,81,120) 300px,rgb(70,83,123) 350px,rgb(71,85,125) 400px,rgb(71,85,126) 450px,rgb(71,86,126) 500px,rgb(71,85,125) 550px,rgb(70,84,123) 600px,rgb(68,82,121) 650px,rgb(66,79,117) 700px,rgb(62,75,112) 750px,rgb(58,70,105) 800px,rgb(53,64,95) 850px,rgb(46,55,82) 900px,rgb(38,45,66) 950px,rgb(29,33,46) 1000px)"></div><div style="top:670px;height:10px;background:linear-gradient(90deg,rgb(38,44,65) 0px,rgb(45,53,79) 50px,rgb(52,61,90) 100px,rgb(57,68,100) 150px,rgb(62,73,107) 200px,rgb(65,77,113) 250px,rgb(67,80,117) 300px,rgb(69,82,120) 350px,rgb(70,83,122) 400px,rgb(70,84,123) 450px,rgb(70,84,123) 500px,rgb(70,84,123) 550px,rgb(68,82,121) 600px,rgb(67,80,118) 650px,rgb(64,78,115) 700px,rgb(61,74,109) 750px,rgb(57,69,102) 800px,rgb(52,62,92) 850px,rgb(45,54,80) 900px,rgb(37,44,64) 950px,rgb(28,32,44) 1000px)"></div><div style="top:680px;height:10px;background:linear-gradient(90deg,rgb(37,43,63) 0px,rgb(44,52,76) 50px,rgb(51,59,87) 100px,rgb(56,66,97) 150px,rgb(60,71,104) 200px,rgb(63,75,110) 250px,rgb(66,78,115) 300px,rgb(67,80,118) 350px,rgb(68,82,120) 400px,rgb(69,82,121) 450px,rgb(69,83,121) 500px,rgb(68,82,120) 550px,rgb(67,81,119) 600px,rgb(65,79,116) 650px,rgb(63,76,112) 700px,rgb(60,72,107) 750px,rgb(56,67,100) 800px,rgb(51,61,90) 850px,rgb(44,53,77) 900px,rgb(37,43,62) 950px,rgb(28,32,42) 1000px)"></div><div style="top:690px;height:10px;background:linear-gradient(90deg,rgb(36,42,61) 0px,rgb(43,50,74) 50px,rgb(49,58,85) 100px,rgb(55,64,94) 150px,rgb(59,69,102) 200px,rgb(62,73,108) 250px,rgb(65,76,112) 300px,rgb(66,79,116) 350px,rgb(67,80,118) 400px,rgb(68,81,119) 450px,rgb(68,81,119) 500px,rgb(67,80,118) 550px,rgb(66,79,116) 600px,rgb(64,77,113) 650px,rgb(62,74,110) 700px,rgb(59,71,104) 750px,rgb(55,66,97) 800px,rgb(50,59,87) 850px,rgb(43,51,75) 900px,rgb(36,42,60) 950px,rgb(27,31,41) 1000px)"></div><div style="top:700px;height:10px;background:linear-gradient(90deg,rgb(35,41,59) 0px,rgb(42,49,71) 50px,rgb(48,56,82) 100px,rgb(53,62,91) 150px,rgb(57,67,99) 200px,rgb(61,71,105) 250px,rgb(63,75,110) 300px,rgb(65,77,113) 350px,rgb(66,79,116) 400px,rgb(67,80,117) 450px,rgb(66,80,117) 500px,rgb(66,79,115) 550px,rgb(64,78,114) 600px,rgb(63,76,111) 650px,rgb(61,73,107) 700px,rgb(57,69,102) 750px,rgb(54,64,94) 800px,rgb(49,58,85) 850px,rgb(43,50,73) 900px,rgb(35,41,58) 950px,rgb(26,30,39) 1000px)"></div><div style="top:710px;height:10px;background:linear-gradient(90deg,rgb(34,39,57) 0px,rgb(41,47,68) 50px,rgb(47,54,79) 100px,rgb(52,60,88) 150px,rgb(56,65,96) 200px,rgb(59,69,102) 250px,rgb(62,73,107) 300px,rgb(64,75,111) 350px,rgb(65,77,113) 400px,rgb(65,78,114) 450px,rgb(65,78,114) 500px,rgb(64,77,113) 550px,rgb(63,76,111) 600px,rgb(61,74,108) 650px,rgb(59,71,104) 700px,rgb(56,67,99) 750px,rgb(52,62,92) 800px,rgb(48,56,82) 850px,rgb(42,49,71) 900px,rgb(34,40,56) 950px,rgb(26,29,38) 1000px)"></div><div style="top:720px;height:10px;background:linear-gradient(90deg,rgb(34,38,55) 0px,rgb(40,46,66) 50px,rgb(45,52,76) 100px,rgb(50,58,85) 150px,rgb(54,63,93) 200px,rgb(58,68,100) 250px,rgb(61,71,105) 300px,rgb(63,74,109) 350px,rgb(64,76,111) 400px,rgb(64,77,112) 450px,rgb(64,77,112) 500px,rgb(63,76,111) 550px,rgb(62,74,109) 600px,rgb(60,72,106) 650px,rgb(58,69,102) 700px,rgb(55,66,96) 750px,rgb(51,61,89) 800px,rgb(47,55,80) 850px,rgb(41,47,68) 900px,rgb(34,38,54) 950px,rgb(25,28,36) 1000px)"></div><div style="top:730px;height:10px;background:linear-gradient(90deg,rgb(33,37,53) 0px,rgb(39,44,63) 50px,rgb(44,50,73) 100px,rgb(49,56,82) 150px,rgb(53,61,90) 200px,rgb(57,66,97) 250px,rgb(59,69,102) 300px,rgb(61,72,106) 350px,rgb(63,74,109) 400px,rgb(63,75,110) 450px,rgb(63,75,110) 500px,rgb(62,74,108) 550px,rgb(60,73,106) 600px,rgb(59,71,103) 650px,rgb(56,68,99) 700px,rgb(54,64,94) 750px,rgb(50,59,87) 800px,rgb(46,53,78) 850px,rgb(40,46,66) 900px,rgb(33,37,52) 950px,rgb(24,27,35) 1000px)"></div><div style="top:740px;height:10px;background:linear-gradient(90deg,rgb(32,36,51) 0px,rgb(38,42,61) 50px,rgb(43,48,70) 100px,rgb(47,54,79) 150px,rgb(51,59,87) 200px,rgb(55,64,94) 250px,rgb(58,68,100) 300px,rgb(60,71,104) 350px,rgb(61,73,107) 400px,rgb(62,74,108) 450px,rgb(61,74,107) 500px,rgb(60,73,106) 550px,rgb(59,71,103) 600px,rgb(57,69,100) 650px,rgb(55,66,96) 700px,rgb(52,62,91) 750px,rgb(49,58,84) 800px,rgb(44,52,75) 850px,rgb(39,45,64) 900px,rgb(32,36,50) 950px,rgb(24,26,33) 1000px)"></div><div style="top:750px;height:10px;background:linear-gradient(90deg,rgb(32,35,49) 0px,rgb(37,41,58) 50px,rgb(41,47,68) 100px,rgb(46,52,76) 150px,rgb(50,57,84) 200px,rgb(54,62,91) 250px,rgb(57,66,97) 300px,rgb(59,69,101) 350px,rgb(60,71,104) 400px,rgb(61,72,105) 450px,rgb(60,72,105) 500px,rgb(59,71,103) 550px,rgb(58,69,101) 600px,rgb(56,67,98) 650px,rgb(54,64,94) 700px,rgb(51,61,88) 750px,rgb(48,56,81) 800px,rgb(43,50,73) 850px,rgb(38,43,62) 900px,rgb(31,35,48) 950px,rgb(23,25,32) 1000px)"></div><div style="top:760px;height:10px;background:linear-gradient(90deg,rgb(31,34,47) 0px,rgb(35,39,56) 50px,rgb(40,45,65) 100px,rgb(44,50,74) 150px,rgb(49,55,82) 200px,rgb(52,60,89) 250px,rgb(55,64,94) 300px,rgb(58,67,99) 350px,rgb(59,70,102) 400px,rgb(59,71,103) 450px,rgb(59,70,103) 500px,rgb(58,69,101) 550px,rgb(56,68,98) 600px,rgb(54,65,95) 650px,rgb(52,63,91) 700px,rgb(50,59,85) 750px,rgb(46,54,79) 800px,rgb(42,49,70) 850px,rgb(37,42,59) 900px,rgb(31,34,46) 950px,rgb(23,25,30) 1000px)"></div><div style="top:770px;height:10px;background:linear-gradient(90deg,rgb(30,33,45) 0px,rgb(34,38,53) 50px,rgb(39,43,62) 100px,rgb(43,48,71) 150px,rgb(47,53,79) 200px,rgb(51,58,86) 250px,rgb(54,62,92) 300px,rgb(56,66,97) 350px,rgb(58,68,100) 400px,rgb(58,69,101) 450px,rgb(57,69,100) 500px,rgb(56,68,98) 550px,rgb(55,66,96) 600px,rgb(53,64,92) 650px,rgb(51,61,88) 700px,rgb(48,57,83) 750px,rgb(45,53,76) 800px,rgb(41,47,68) 850px,rgb(36,41,57) 900px,rgb(30,33,44) 950px,rgb(22,24,29) 1000px)"></div><div style="top:780px;height:10px;background:linear-gradient(90deg,rgb(30,32,43) 0px,rgb(33,36,51) 50px,rgb(37,41,59) 100px,rgb(42,46,68) 150px,rgb(46,51,76) 200px,rgb(49,56,83) 250px,rgb(53,61,89) 300px,rgb(55,64,94) 350px,rgb(56,66,97) 400px,rgb(57,67,98) 450px,rgb(56,67,98) 500px,rgb(55,66,96) 550px,rgb(53,64,93) 600px,rgb(52,62,90) 650px,rgb(50,59,85) 700px,rgb(47,55,80) 750px,rgb(44,51,73) 800px,rgb(40,46,65) 850px,rgb(35,39,55) 900px,rgb(29,32,43) 950px,rgb(22,23,28) 1000px)"></div><div style="top:790px;height:10px;background:linear-gradient(90deg,rgb(29,31,41) 0px,rgb(32,35,49) 50px,rgb(36,40,57) 100px,rgb(40,44,65) 150px,rgb(44,50,73) 200px,rgb(48,54,80) 250px,rgb(51,59,87) 300px,rgb(54,62,92) 350px,rgb(55,65,95) 400px,rgb(55,66,96) 450px,rgb(55,66,95) 500px,rgb(54,65,93) 550px,rgb(52,63,90) 600px,rgb(50,60,87) 650px,rgb(48,57,83) 700px,rgb(46,54,77) 750px,rgb(43,49,71) 800px,rgb(39,44,63) 850px,rgb(34,38,53) 900px,rgb(29,31,41) 950px,rgb(21,22,27) 1000px)"></div><div style="top:800px;height:10px;background:linear-gradient(90deg,rgb(29,31,39) 0px,rgb(31,34,47) 50px,rgb(35,38,54) 100px,rgb(39,43,62) 150px,rgb(43,48,70) 200px,rgb(46,53,78) 250px,rgb(50,57,84) 300px,rgb(52,61,89) 350px,rgb(54,63,92) 400px,rgb(54,64,93) 450px,rgb(53,64,93) 500px,rgb(52,63,91) 550px,rgb(50,61,88) 600px,rgb(49,59,84) 650px,rgb(47,56,80) 700px,rgb(45,52,75) 750px,rgb(42,48,68) 800px,rgb(38,43,60) 850px,rgb(34,37,51) 900px,rgb(28,30,39) 950px,rgb(21,22,26) 1000px)"></div><div style="top:810px;height:10px;background:linear-gradient(90deg,rgb(28,30,38) 0px,rgb(30,32,44) 50px,rgb(34,36,52) 100px,rgb(37,41,60) 150px,rgb(41,46,68) 200px,rgb(45,51,75) 250px,rgb(48,55,81) 300px,rgb(51,59,86) 350px,rgb(53,62,90) 400px,rgb(53,63,91) 450px,rgb(52,63,90) 500px,rgb(51,61,88) 550px,rgb(49,59,85) 600px,rgb(47,57,81) 650px,rgb(45,54,77) 700px,rgb(43,50,72) 750px,rgb(40,46,66) 800px,rgb(37,41,58) 850px,rgb(33,35,49) 900px,rgb(27,29,38) 950px,rgb(20,21,24) 1000px)"></div><div style="top:820px;height:10px;background:linear-gradient(90deg,rgb(28,29,36) 0px,rgb(30,31,42) 50px,rgb(33,35,49) 100px,rgb(36,39,57) 150px,rgb(40,44,65) 200px,rgb(44,49,72) 250px,rgb(47,54,79) 300px,rgb(50,57,84) 350px,rgb(51,60,87) 400px,rgb(52,61,88) 450px,rgb(51,61,87) 500px,rgb(49,60,85) 550px,rgb(48,58,82) 600px,rgb(46,55,79) 650px,rgb(44,52,74) 700px,rgb(42,49,69) 750px,rgb(39,45,63) 800px,rgb(36,40,56) 850px,rgb(32,34,47) 900px,rgb(27,28,36) 950px,rgb(20,21,23) 1000px)"></div><div style="top:830px;height:10px;background:linear-gradient(90deg,rgb(27,28,35) 0px,rgb(29,30,40) 50px,rgb(31,33,47) 100px,rgb(35,38,55) 150px,rgb(39,42,62) 200px,rgb(42,47,70) 250px,rgb(46,52,76) 300px,rgb(48,56,81) 350px,rgb(50,58,84) 400px,rgb(50,59,86) 450px,rgb(49,59,85) 500px,rgb(48,58,83) 550px,rgb(46,56,80) 600px,rgb(45,54,76) 650px,rgb(43,51,72) 700px,rgb(41,47,67) 750px,rgb(38,43,61) 800px,rgb(35,38,53) 850px,rgb(31,33,45) 900px,rgb(26,27,34) 950px,rgb(20,20,23) 1000px)"></div><div style="top:840px;height:10px;background:linear-gradient(90deg,rgb(27,28,33) 0px,rgb(28,29,38) 50px,rgb(30,32,45) 100px,rgb(34,36,52) 150px,rgb(37,41,60) 200px,rgb(41,46,67) 250px,rgb(44,50,73) 300px,rgb(47,54,78) 350px,rgb(49,57,82) 400px,rgb(49,58,83) 450px,rgb(48,58,82) 500px,rgb(47,56,80) 550px,rgb(45,54,77) 600px,rgb(43,52,73) 650px,rgb(41,49,69) 700px,rgb(39,46,64) 750px,rgb(37,42,58) 800px,rgb(34,37,51) 850px,rgb(30,32,43) 900px,rgb(25,26,33) 950px,rgb(19,19,22) 1000px)"></div><div style="top:850px;height:10px;background:linear-gradient(90deg,rgb(26,27,32) 0px,rgb(27,28,37) 50px,rgb(29,31,43) 100px,rgb(32,34,50) 150px,rgb(36,39,57) 200px,rgb(40,44,64) 250px,rgb(43,48,71) 300px,rgb(46,52,76) 350px,rgb(47,55,79) 400px,rgb(47,56,80) 450px,rgb(47,56,79) 500px,rgb(45,55,77) 550px,rgb(43,53,74) 600px,rgb(42,50,70) 650px,rgb(40,47,66) 700px,rgb(38,44,61) 750px,rgb(36,40,56) 800px,rgb(33,36,49) 850px,rgb(29,31,41) 900px,rgb(25,25,32) 950px,rgb(19,19,21) 1000px)"></div><div style="top:860px;height:10px;background:linear-gradient(90deg,rgb(26,26,31) 0px,rgb(26,27,35) 50px,rgb(28,29,41) 100px,rgb(31,33,48) 150px,rgb(35,37,55) 200px,rgb(38,42,62) 250px,rgb(42,47,68) 300px,rgb(44,51,73) 350px,rgb(46,53,76) 400px,rgb(46,54,77) 450px,rgb(45,54,76) 500px,rgb(44,53,74) 550px,rgb(42,51,71) 600px,rgb(40,48,68) 650px,rgb(39,46,63) 700px,rgb(37,42,59) 750px,rgb(35,39,53) 800px,rgb(32,34,47) 850px,rgb(28,30,39) 900px,rgb(24,24,30) 950px,rgb(19,18,20) 1000px)"></div><div style="top:870px;height:10px;background:linear-gradient(90deg,rgb(25,26,29) 0px,rgb(26,26,33) 50px,rgb(27,28,39) 100px,rgb(30,32,45) 150px,rgb(33,36,52) 200px,rgb(37,41,59) 250px,rgb(40,45,65) 300px,rgb(43,49,70) 350px,rgb(44,51,73) 400px,rgb(45,52,74) 450px,rgb(44,52,73) 500px,rgb(42,51,71) 550px,rgb(41,49,68) 600px,rgb(39,47,65) 650px,rgb(37,44,61) 700px,rgb(36,41,56) 750px,rgb(34,37,51) 800px,rgb(31,33,44) 850px,rgb(28,29,37) 900px,rgb(23,24,29) 950px,rgb(18,18,20) 1000px)"></div><div style="top:880px;height:10px;background:linear-gradient(90deg,rgb(25,25,28) 0px,rgb(25,25,32) 50px,rgb(27,27,37) 100px,rgb(29,30,43) 150px,rgb(32,35,50) 200px,rgb(36,39,56) 250px,rgb(39,43,62) 300px,rgb(41,47,67) 350px,rgb(43,50,70) 400px,rgb(43,51,71) 450px,rgb(42,50,70) 500px,rgb(41,49,68) 550px,rgb(39,47,65) 600px,rgb(38,45,62) 650px,rgb(36,42,58) 700px,rgb(34,39,53) 750px,rgb(32,36,48) 800px,rgb(30,32,42) 850px,rgb(27,28,36) 900px,rgb(23,23,28) 950px,rgb(18,18,19) 1000px)"></div><div style="top:890px;height:10px;background:linear-gradient(90deg,rgb(25,25,28) 0px,rgb(25,25,31) 50px,rgb(26,26,36) 100px,rgb(28,29,41) 150px,rgb(31,33,48) 200px,rgb(35,37,54) 250px,rgb(38,42,60) 300px,rgb(40,45,64) 350px,rgb(41,48,67) 400px,rgb(42,49,68) 450px,rgb(41,48,67) 500px,rgb(40,47,65) 550px,rgb(38,45,62) 600px,rgb(36,43,59) 650px,rgb(35,41,55) 700px,rgb(33,38,51) 750px,rgb(31,34,46) 800px,rgb(29,31,40) 850px,rgb(26,27,34) 900px,rgb(22,22,27) 950px,rgb(18,17,19) 1000px)"></div><div style="top:900px;height:10px;background:linear-gradient(90deg,rgb(24,24,27) 0px,rgb(24,24,30) 50px,rgb(25,25,34) 100px,rgb(28,28,40) 150px,rgb(30,32,46) 200px,rgb(33,36,52) 250px,rgb(36,40,57) 300px,rgb(39,43,61) 350px,rgb(40,46,64) 400px,rgb(40,47,65) 450px,rgb(39,47,64) 500px,rgb(38,45,62) 550px,rgb(37,44,59) 600px,rgb(35,41,56) 650px,rgb(34,39,53) 700px,rgb(32,36,48) 750px,rgb(30,33,44) 800px,rgb(28,30,38) 850px,rgb(25,26,32) 900px,rgb(22,22,26) 950px,rgb(18,17,18) 1000px)"></div><div style="top:910px;height:10px;background:linear-gradient(90deg,rgb(24,24,26) 0px,rgb(24,23,29) 50px,rgb(25,25,33) 100px,rgb(27,27,38) 150px,rgb(29,31,44) 200px,rgb(32,35,49) 250px,rgb(35,38,54) 300px,rgb(37,42,58) 350px,rgb(38,44,61) 400px,rgb(39,45,62) 450px,rgb(38,45,61) 500px,rgb(37,44,59) 550px,rgb(35,42,56) 600px,rgb(34,40,53) 650px,rgb(33,37,50) 700px,rgb(31,35,46) 750px,rgb(29,32,42) 800px,rgb(27,28,37) 850px,rgb(25,25,31) 900px,rgb(21,21,25) 950px,rgb(17,17,18) 1000px)"></div><div style="top:920px;height:10px;background:linear-gradient(90deg,rgb(24,24,26) 0px,rgb(23,23,28) 50px,rgb(24,24,32) 100px,rgb(26,27,37) 150px,rgb(29,30,42) 200px,rgb(31,33,47) 250px,rgb(34,37,52) 300px,rgb(36,40,55) 350px,rgb(37,42,58) 400px,rgb(37,43,59) 450px,rgb(37,43,58) 500px,rgb(35,42,56) 550px,rgb(34,40,53) 600px,rgb(33,38,51) 650px,rgb(31,36,47) 700px,rgb(30,33,44) 750px,rgb(28,30,39) 800px,rgb(26,27,35) 850px,rgb(24,24,30) 900px,rgb(21,21,24) 950px,rgb(17,17,18) 1000px)"></div><div style="top:930px;height:10px;background:linear-gradient(90deg,rgb(23,23,25) 0px,rgb(23,23,28) 50px,rgb(24,24,31) 100px,rgb(26,26,35) 150px,rgb(28,29,40) 200px,rgb(30,32,45) 250px,rgb(33,35,49) 300px,rgb(34,38,52) 350px,rgb(36,40,55) 400px,rgb(36,41,55) 450px,rgb(35,41,55) 500px,rgb(34,40,53) 550px,rgb(33,38,50) 600px,rgb(32,36,48) 650px,rgb(30,34,45) 700px,rgb(29,32,41) 750px,rgb(27,29,37) 800px,rgb(26,26,33) 850px,rgb(23,23,29) 900px,rgb(20,20,23) 950px,rgb(17,17,18) 1000px)"></div><div style="top:940px;height:10px;background:linear-gradient(90deg,rgb(23,23,25) 0px,rgb(23,23,27) 50px,rgb(24,24,30) 100px,rgb(25,26,34) 150px,rgb(27,28,38) 200px,rgb(29,31,42) 250px,rgb(31,34,46) 300px,rgb(33,36,49) 350px,rgb(34,38,51) 400px,rgb(34,39,52) 450px,rgb(34,39,51) 500px,rgb(33,38,50) 550px,rgb(32,36,47) 600px,rgb(31,35,45) 650px,rgb(29,33,42) 700px,rgb(28,31,39) 750px,rgb(27,28,35) 800px,rgb(25,26,32) 850px,rgb(23,23,27) 900px,rgb(20,20,23) 950px,rgb(17,17,18) 1000px)"></div><div style="top:950px;height:10px;background:linear-gradient(90deg,rgb(23,23,25) 0px,rgb(23,23,27) 50px,rgb(24,24,30) 100px,rgb(25,25,33) 150px,rgb(27,28,37) 200px,rgb(29,30,40) 250px,rgb(30,33,44) 300px,rgb(32,35,46) 350px,rgb(33,36,48) 400px,rgb(33,37,48) 450px,rgb(32,37,48) 500px,rgb(31,36,46) 550px,rgb(30,35,44) 600px,rgb(29,33,42) 650px,rgb(28,31,40) 700px,rgb(27,29,37) 750px,rgb(26,27,34) 800px,rgb(24,25,30) 850px,rgb(22,22,26) 900px,rgb(20,20,22) 950px,rgb(17,17,18) 1000px)"></div><div style="top:960px;height:10px;background:linear-gradient(90deg,rgb(23,23,25) 0px,rgb(23,23,27) 50px,rgb(24,24,30) 100px,rgb(25,25,32) 150px,rgb(26,27,35) 200px,rgb(28,29,38) 250px,rgb(29,31,41) 300px,rgb(30,33,43) 350px,rgb(31,34,44) 400px,rgb(31,35,45) 450px,rgb(31,35,44) 500px,rgb(30,34,43) 550px,rgb(29,33,41) 600px,rgb(28,32,39) 650px,rgb(27,30,37) 700px,rgb(26,28,35) 750px,rgb(25,26,32) 800px,rgb(23,24,29) 850px,rgb(21,22,26) 900px,rgb(19,19,22) 950px,rgb(17,17,19) 1000px)"></div><div style="top:970px;height:10px;background:linear-gradient(90deg,rgb(23,23,26) 0px,rgb(23,23,27) 50px,rgb(24,24,29) 100px,rgb(25,25,32) 150px,rgb(26,27,34) 200px,rgb(27,28,36) 250px,rgb(28,30,38) 300px,rgb(29,31,40) 350px,rgb(30,32,41) 400px,rgb(30,32,41) 450px,rgb(29,32,41) 500px,rgb(29,32,40) 550px,rgb(28,31,38) 600px,rgb(27,30,37) 650px,rgb(27,29,35) 700px,rgb(25,27,32) 750px,rgb(24,25,30) 800px,rgb(23,23,27) 850px,rgb(21,21,25) 900px,rgb(19,19,22) 950px,rgb(17,17,19) 1000px)"></div><div style="top:980px;height:10px;background:linear-gradient(90deg,rgb(23,23,26) 0px,rgb(23,24,28) 50px,rgb(24,25,30) 100px,rgb(25,26,31) 150px,rgb(26,27,33) 200px,rgb(27,28,35) 250px,rgb(27,29,36) 300px,rgb(28,29,37) 350px,rgb(28,30,37) 400px,rgb(28,30,37) 450px,rgb(28,30,37) 500px,rgb(28,30,36) 550px,rgb(27,29,35) 600px,rgb(27,29,34) 650px,rgb(26,27,32) 700px,rgb(25,26,30) 750px,rgb(23,24,28) 800px,rgb(22,23,26) 850px,rgb(20,21,24) 900px,rgb(19,19,22) 950px,rgb(17,17,20) 1000px)"></div><div style="top:990px;height:10px;background:linear-gradient(90deg,rgb(22,23,27) 0px,rgb(24,24,29) 50px,rgb(25,25,30) 100px,rgb(25,26,31) 150px,rgb(26,27,32) 200px,rgb(26,27,33) 250px,rgb(26,27,33) 300px,rgb(26,28,34) 350px,rgb(27,28,34) 400px,rgb(27,28,34) 450px,rgb(27,28,33) 500px,rgb(27,28,33) 550px,rgb(26,28,32) 600px,rgb(26,27,31) 650px,rgb(25,26,30) 700px,rgb(24,25,29) 750px,rgb(23,24,27) 800px,rgb(21,22,25) 850px,rgb(20,21,24) 900px,rgb(18,19,22) 950px,rgb(17,18,20) 1000px)"></div></div>
<svg id="dotsA" width="1000" height="1000" style="position:absolute;left:0;top:0;mix-blend-mode:multiply">
 <defs>
  <radialGradient id="dgA"><stop offset="0" stop-color="rgb(155,168,200)"/><stop offset="1" stop-color="#fff"/></radialGradient>
  <pattern id="pA" patternUnits="userSpaceOnUse" x="3.9" y="5.7" width="7.925" height="7.925">
   <rect width="7.925" height="7.925" fill="#fff"/>
   <circle cx="0" cy="0" r="2" fill="url(#dgA)"/><circle cx="7.925" cy="0" r="2" fill="url(#dgA)"/>
   <circle cx="0" cy="7.925" r="2" fill="url(#dgA)"/><circle cx="7.925" cy="7.925" r="2" fill="url(#dgA)"/>
   <circle cx="3.9625" cy="3.9625" r="2" fill="url(#dgA)"/>
  </pattern>
 </defs>
 <rect width="1000" height="1000" fill="url(#pA)"/>
</svg>
<svg id="dotsB" width="1000" height="1000" style="position:absolute;left:0;top:0">
 <defs>
  <radialGradient id="dgB"><stop offset="0" stop-color="#000008" stop-opacity="0.45"/><stop offset="1" stop-color="#000008" stop-opacity="0"/></radialGradient>
  <pattern id="pB" patternUnits="userSpaceOnUse" x="3.9" y="5.7" width="7.925" height="7.925">
   <circle cx="0" cy="0" r="2" fill="url(#dgB)"/><circle cx="7.925" cy="0" r="2" fill="url(#dgB)"/>
   <circle cx="0" cy="7.925" r="2" fill="url(#dgB)"/><circle cx="7.925" cy="7.925" r="2" fill="url(#dgB)"/>
   <circle cx="3.9625" cy="3.9625" r="2" fill="url(#dgB)"/>
  </pattern>
  <linearGradient id="mgB" x1="0" y1="0" x2="0" y2="1"><stop offset="0.45" stop-color="#fff" stop-opacity="0"/><stop offset="0.85" stop-color="#fff" stop-opacity="1"/></linearGradient>
  <mask id="mB" maskUnits="userSpaceOnUse" x="0" y="0" width="1000" height="1000"><rect width="1000" height="1000" fill="url(#mgB)"/></mask>
 </defs>
 <rect width="1000" height="1000" fill="url(#pB)" mask="url(#mB)"/>
</svg>
<svg width="1000" height="1000" viewBox="0 0 1000 1000">
 <defs>
  <filter id="blur1" x="-5%" y="-20%" width="110%" height="140%"><feGaussianBlur stdDeviation="0.55"/></filter>
  <filter id="blur2" x="-30%" y="-30%" width="160%" height="160%"><feGaussianBlur stdDeviation="0.8"/></filter>
 </defs>
 <!-- Title -->
 <g font-family="Liberation Sans" font-weight="bold" font-style="italic" font-size="53.4" stroke-linejoin="round">
  <g fill="#1c2548" stroke="#1c2548" transform="translate(-1.2,1) scale(0.770,1)">
   <text stroke-width="5.6" vector-effect="non-scaling-stroke" x="268.57" y="98.2" textLength="198.05" lengthAdjust="spacing">WIRES</text>
   <text stroke-width="5.6" vector-effect="non-scaling-stroke" x="487.66" y="98.2" textLength="393.51" lengthAdjust="spacing">CONNECTION</text>
   <text stroke-width="5.6" vector-effect="non-scaling-stroke" x="903.25" y="98.2" textLength="183.51" lengthAdjust="spacing">GUIDE</text>
  </g>
  <g fill="#ffe914" stroke="#ffe914" transform="scale(0.770,1)">
   <text stroke-width="4.4" vector-effect="non-scaling-stroke" x="268.57" y="98.2" textLength="198.05" lengthAdjust="spacing">WIRES</text>
   <text stroke-width="4.4" vector-effect="non-scaling-stroke" x="487.66" y="98.2" textLength="393.51" lengthAdjust="spacing">CONNECTION</text>
   <text stroke-width="4.4" vector-effect="non-scaling-stroke" x="903.25" y="98.2" textLength="183.51" lengthAdjust="spacing">GUIDE</text>
  </g>
 </g>
 <!-- Subtitle -->
 <text x="273.5" y="155.6" font-family="Liberation Sans" font-size="25" fill="#f2f5ff" stroke="#f2f5ff" stroke-width="0.3" textLength="496" lengthAdjust="spacingAndGlyphs">Jumper wires for simple connection in 30secs</text>

 <!-- Legend -->
 <circle cx="72.2" cy="344.4" r="14.2" fill="none" stroke="#eef2ff" stroke-width="1.9"/>
 <rect x="64" y="343.1" width="15.8" height="3.1" rx="1" fill="#f4f6ff"/>
 <text x="104" y="357.4" font-family="Liberation Sans" font-size="36.8" fill="#f4f6ff" stroke="#f4f6ff" stroke-width="0.3" textLength="145.7" lengthAdjust="spacingAndGlyphs">Negative</text>
 <g filter="url(#blur2)" opacity="0.92">
  <circle cx="72" cy="403.2" r="14" fill="none" stroke="#c8283a" stroke-width="2.2"/>
  <rect x="66" y="401.6" width="12" height="3.2" fill="#d82a36"/>
  <rect x="70.4" y="397.2" width="3.2" height="12" fill="#d82a36"/>
 </g>
 <g filter="url(#blur1)">
  <text x="109" y="414.6" font-family="Liberation Sans" font-size="35.8" fill="#d42a32" stroke="#d42a32" stroke-width="0.5" textLength="131" lengthAdjust="spacingAndGlyphs">Positive</text>
 </g>

 <!-- Panel wireframe -->
 <g fill="none" stroke="#e6eeff" stroke-opacity="0.7" stroke-width="1.35" stroke-linejoin="round">
  <path d="M463.5 411.7 H844.1 C866.9 411.7 886.1 428.7 888.8 451.4 L928.7 785.8 C931.3 807.4 916.8 823.7 895 823.7 H395 C375.2 823.7 362.6 809 365.7 789.4 L419.9 449 C423.3 427.7 442 411.7 463.5 411.7 Z"/>
  <path d="M365.6 790 C364 818 380 837.2 400 837.2 H895 C917 837.2 932 815 928.9 788"/>
  <!-- switch 1 -->
  <path d="M478 414 L461.6 586 Q461 597.5 472 597.5 H606 Q619.6 597 619.6 588 L616.7 403"/>
  <path d="M461.8 590 L466.8 737.4 L615.9 736.4 L619.2 596"/>
  <!-- switch 2 -->
  <path d="M686 403 L680 515 L687.8 734.5"/>
  <path d="M686 403 L693.2 584.6 Q694 593.6 704 593.6 H829 Q839.8 592 839.5 581 L817.8 415 Q815 399.5 805 398.5"/>
  <path d="M694.2 589 L687.8 734.5 H835.9 L839.5 585"/>
 </g>

 <!-- Pads -->
 <g fill="#cbccc8" stroke="#dde3f2" stroke-width="1.1">
  <rect x="483" y="426.6" width="50.8" height="21.6" rx="6"/>
  <rect x="555.4" y="426.6" width="51.3" height="21.6" rx="6"/>
  <rect x="483" y="457.6" width="50.8" height="21.6" rx="6"/>
  <path d="M486.2 510.2 L491.3 504.8 H509.9 L517.8 514 L519.8 562.6 Q519.9 564.8 517.6 564.8 H489.6 Q487.5 564.8 487.4 562.6 Z"/>
  <rect x="557.2" y="542.2" width="50.8" height="21.6" rx="6"/>

  <rect x="690.2" y="426.6" width="50.9" height="21.6" rx="6"/>
  <rect x="762.7" y="426.6" width="51.3" height="21.6" rx="6"/>
  <rect x="695.2" y="458" width="50" height="21.2" rx="6"/>
  <path d="M709.3 511.4 L714.1 504.8 H734.4 L741.4 512.6 L743.1 562.6 Q743.2 564.8 741 564.8 H713.2 Q711 564.8 710.9 562.6 Z"/>
  <rect x="778" y="542.2" width="52.2" height="21.6" rx="6"/>
 </g>

 <!-- gap highlights -->
 <g stroke-width="2" fill="none">
  <path d="M501.8 360 V437" stroke="#9aa0b0"/>
  <path d="M507 437 V473" stroke="#f07070"/>
  <path d="M579 430 V552" stroke="#e86868"/>
  <path d="M717.2 432 V467.5" stroke="#f07070"/>
 </g>
 <!-- Black wires -->
 <g fill="none" stroke="#06070c" stroke-width="10" stroke-linejoin="round">
  <path d="M268 345.5 H466 A30 30 0 0 1 496 375.5 V437.5"/>
  <path d="M507.6 437.5 V339.7 A28 28 0 0 1 535.6 311.7 H543.6 A28 28 0 0 1 571.6 339.7 V437.5"/>
  <path d="M584.7 437.5 V338 A28 28 0 0 1 612.7 310 H675.6 A28 28 0 0 1 703.6 338 V437.5"/>
  <path d="M715.6 437.5 V339 A29 29 0 0 1 744.6 310 H770.5 A29 29 0 0 1 799.5 339 V437.5"/>
 </g>
 <!-- Red wires -->
 <g fill="none" stroke="#da2226" stroke-width="10" stroke-linejoin="round">
  <path d="M268 409.2 H473 A28 28 0 0 1 501.4 437.2 V473"/>
  <path d="M512.6 473 V428.5 A30.2 30.2 0 0 1 573 428.5 V552"/>
  <path d="M585 552 V427.5 A30 30 0 0 1 615 397.5 H681.5 A30 30 0 0 1 711.5 427.5 V467.5"/>
  <path d="M723 467.5 V431 A38 38 0 0 1 761 393 H769.5 A38 38 0 0 1 807.5 431 V553"/>
 </g>
</svg>
</body></html>
